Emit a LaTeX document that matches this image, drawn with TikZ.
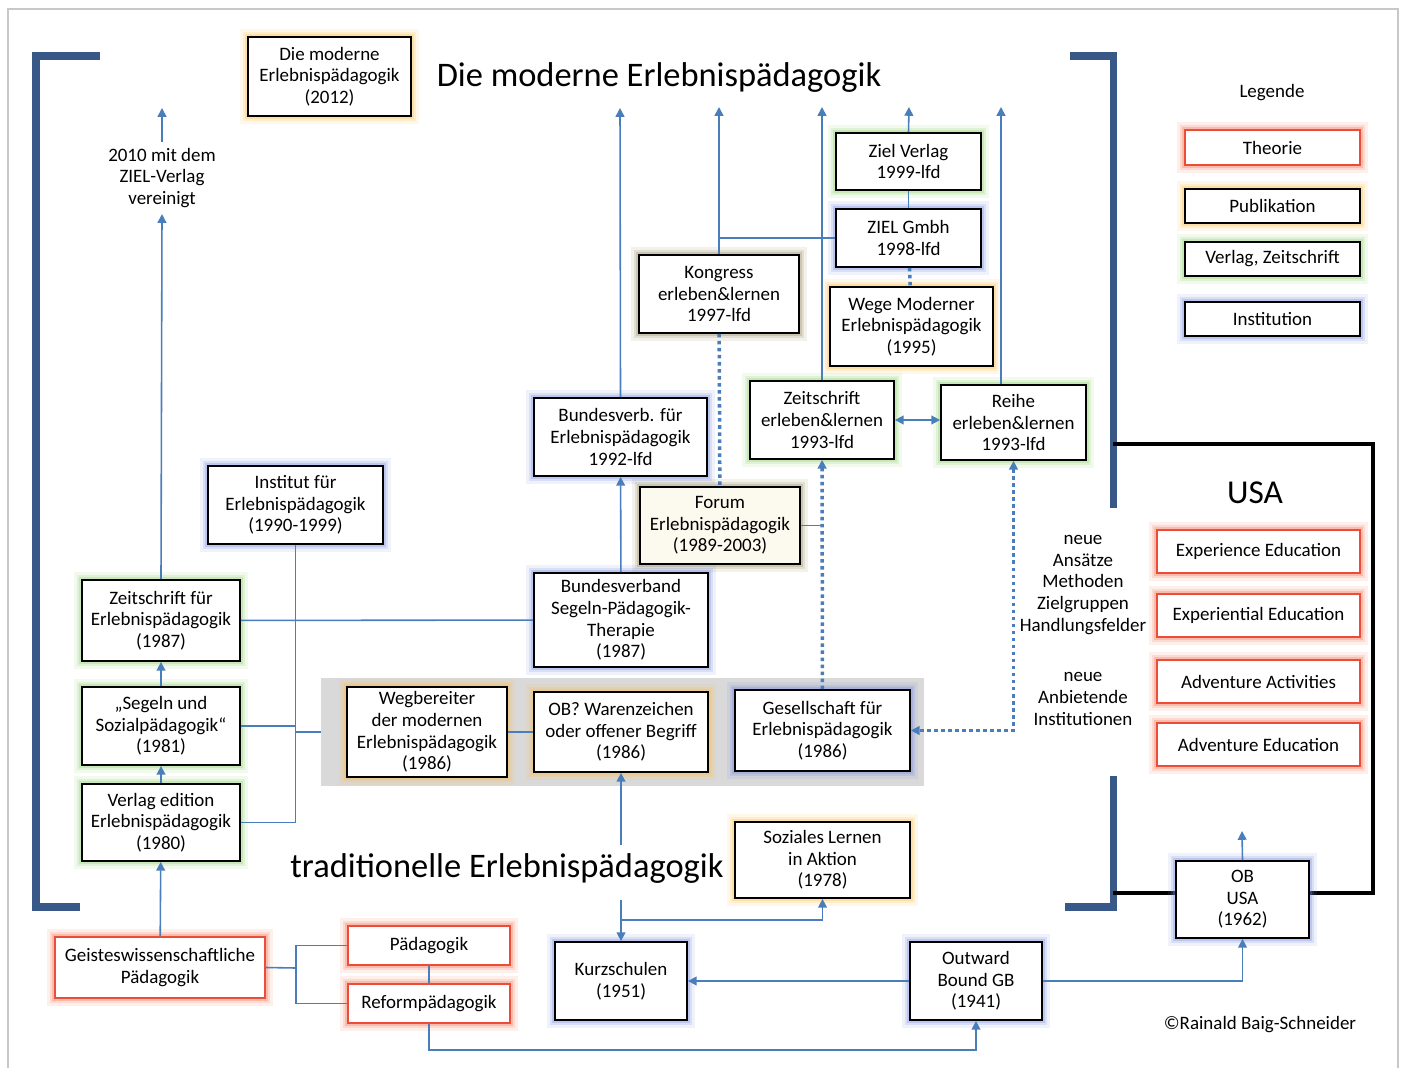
\documentclass[tikz,border=0pt]{standalone}
\usepackage{fontspec}
\setmainfont{Carlito}
\usetikzlibrary{arrows.meta}

\definecolor{linecol}{RGB}{74,126,187}
\definecolor{bracketcol}{RGB}{56,88,135}
\definecolor{bandgray}{RGB}{217,217,217}
\definecolor{framegray}{RGB}{200,200,200}
\definecolor{redcol}{RGB}{237,76,56}
\definecolor{redglow}{RGB}{245,120,90}
\definecolor{yellowglow}{RGB}{250,190,80}
\definecolor{greenglow}{RGB}{140,210,110}
\definecolor{blueglow}{RGB}{120,140,220}
\definecolor{oliveglow}{RGB}{150,140,95}
\definecolor{forumfill}{RGB}{252,250,238}

\begin{document}
\begin{tikzpicture}[x=0.02cm, y=-0.02cm,
  font=\fontsize{10.8}{12.3}\selectfont,
  >={Triangle[length=5pt,width=5pt]},
  box/.style={draw=black, line width=1pt, fill=white, align=center, inner sep=0pt},
  boxsize/.style 2 args={minimum width=#1*0.02cm, minimum height=#2*0.02cm},
  glow/.style={preaction={draw=#1, line width=9pt, opacity=.12},
               preaction={draw=#1, line width=6pt, opacity=.18},
               preaction={draw=#1, line width=3pt, opacity=.3}},
  theorie/.style={box, draw=redcol, glow=redglow},
  publ/.style={box, glow=yellowglow},
  verlag/.style={box, glow=greenglow},
  inst/.style={box, glow=blueglow},
  link/.style={draw=linecol, line width=0.9pt},
  dots/.style={draw=linecol, line width=2pt, dash pattern=on 2pt off 2pt},
  bracket/.style={draw=bracketcol, line width=4pt},
  bigtext/.style={font=\fontsize{19.6}{24}\selectfont}]

\useasboundingbox (0,0) rectangle (1402,1068);

% Frame and brackets
\draw[framegray, line width=0.8pt] (8,1068) -- (8,9) -- (1398,9) -- (1398,1068);
\draw[bracket] (100,56) -- (36,56) -- (36,907) -- (80,907);
\draw[bracket] (1070,56) -- (1113,56) -- (1113,508);
\draw[bracket] (1113,776) -- (1113,907) -- (1065,907);
\draw[black, line width=2.3pt] (1113,444) -- (1373,444) -- (1373,893) -- (1113,893);

% Gray band (1986)
\node[fill=bandgray, inner sep=0pt, boxsize={603}{108}] (band) at (622.5,732) {};

% Titles
\node[bigtext] (titel) at (659,78) {Die moderne Erlebnispädagogik};
\node[bigtext] (tradtitel) at (507,868) {traditionelle Erlebnispädagogik};
\node[font=\fontsize{19}{23}\selectfont] (usa) at (1255,493) {USA};

% Modern part
\node[publ, boxsize={163}{79}] (moderne) at (329.5,76.5) {Die moderne\\Erlebnispädagogik\\(2012)};
\node[align=center] (vereinigt) at (162,178) {2010 mit dem\\ZIEL-Verlag\\vereinigt};
\node[verlag, boxsize={145}{57}] (zielverlag) at (908.5,161.5) {Ziel Verlag\\1999-lfd};
\node[inst, boxsize={145}{58}] (zielgmbh) at (908.5,238) {ZIEL Gmbh\\1998-lfd};
\node[box, glow=oliveglow, boxsize={160}{78}] (kongress) at (719,294) {Kongress\\erleben\&lernen\\1997-lfd};
\node[publ, boxsize={163}{79}] (wege) at (911.5,326.5) {Wege Moderner\\Erlebnispädagogik\\(1995)};
\node[inst, boxsize={173}{78}] (bundesverb) at (620.5,437) {Bundesverb. für\\Erlebnispädagogik\\1992-lfd};
\node[verlag, boxsize={144}{78}] (zeitel) at (822,420) {Zeitschrift\\erleben\&lernen\\1993-lfd};
\node[verlag, boxsize={145}{75}] (reihe) at (1013.5,422.5) {Reihe\\erleben\&lernen\\1993-lfd};
\node[box, fill=forumfill, glow=oliveglow, boxsize={160}{77}] (forum) at (720,525.5) {Forum\\Erlebnispädagogik\\(1989-2003)};
\node[inst, boxsize={175}{78}] (institut) at (295.5,505) {Institut für\\Erlebnispädagogik\\(1990-1999)};
\node[verlag, boxsize={158}{81}] (zeitfuer) at (161,620.5) {Zeitschrift für\\Erlebnispädagogik\\(1987)};
\node[verlag, boxsize={158}{78}] (segeln) at (161,726) {„Segeln und\\Sozialpädagogik“\\(1981)};
\node[verlag, boxsize={158}{77}] (edition) at (161,822.5) {Verlag edition\\Erlebnispädagogik\\(1980)};
\node[inst, boxsize={174}{94}] (bvsegeln) at (621,620) {Bundesverband\\Segeln-Pädagogik-\\Therapie\\(1987)};
\node[publ, boxsize={160}{90}] (wegbereiter) at (427,732) {Wegbereiter\\der modernen\\Erlebnispädagogik\\(1986)};
\node[publ, boxsize={174}{80}] (obwaren) at (621,732) {OB? Warenzeichen\\oder offener Begriff\\(1986)};
\node[inst, boxsize={175}{81}] (gesellschaft) at (822.5,730.5) {Gesellschaft für\\Erlebnispädagogik\\(1986)};

% Traditional part
\node[publ, boxsize={175}{76}] (soziales) at (822.5,860) {Soziales Lernen\\in Aktion\\(1978)};
\node[inst, boxsize={132}{78}] (kurzschulen) at (621,981) {Kurzschulen\\(1951)};
\node[inst, boxsize={132}{78}] (outward) at (976,981) {Outward\\Bound GB\\(1941)};
\node[inst, boxsize={133}{77}] (obusa) at (1242.5,899.5) {OB\\USA\\(1962)};
\node[theorie, boxsize={210}{61}] (geistes) at (160,967.5) {Geisteswissenschaftliche\\Pädagogik};
\node[theorie, boxsize={162}{39}] (paed) at (429,945.5) {Pädagogik};
\node[theorie, boxsize={162}{39}] (reform) at (429,1003.5) {Reformpädagogik};

% Legend
\node (legende) at (1272,93) {Legende};
\node[theorie, boxsize={175}{35}] (legtheorie) at (1272.5,147.5) {Theorie};
\node[publ, boxsize={175}{34}] (legpubl) at (1272.5,206) {Publikation};
\node[verlag, boxsize={175}{34}] (legverlag) at (1272.5,259) {Verlag, Zeitschrift};
\node[inst, boxsize={175}{34}] (leginst) at (1272.5,319) {Institution};

% USA
\node[theorie, boxsize={203}{43}] (expe) at (1258.5,551.5) {Experience Education};
\node[theorie, boxsize={203}{43}] (expl) at (1258.5,615.5) {Experiential Education};
\node[theorie, boxsize={203}{43}] (advact) at (1258.5,681.5) {Adventure Activities};
\node[theorie, boxsize={203}{43}] (advedu) at (1258.5,744.5) {Adventure Education};
\node[align=center] (ansaetze) at (1083,585) {neue\\Ansätze\\Methoden\\Zielgruppen\\Handlungsfelder};
\node[align=center] (anbieter) at (1083,699) {neue\\Anbietende\\Institutionen};
\node (copy) at (1260,1025) {©Rainald Baig-Schneider};

% Free ends
\coordinate (up0) at (162,108);
\coordinate (up1) at (620,108);
\coordinate (up2) at (719,107);
\coordinate (up3) at (822,107);
\coordinate (up4) at (909,107);
\coordinate (up5) at (1001,107);
\coordinate (up6) at (1242,831);
\coordinate (tradtop) at (621,845);
\coordinate (tradbot) at (621,900);
\coordinate (branch) at (621,920);
\coordinate (gsplit) at (296,968);
\coordinate (rbot) at (700,1050);

% Connectors modern part
\draw[link, ->] (vereinigt.north) -- (up0);
\draw[link, ->] (zeitfuer.north) -- (vereinigt.south);
\draw[link, ->] (bundesverb.north) -- (up1);
\draw[link, ->] (kongress.north) -- (up2);
\draw[link, ->] (zeitel.north) -- (up3);
\draw[link, ->] (zielverlag.north) -- (up4);
\draw[link, ->] (reihe.north -| up5) -- (up5);
\draw[link] (zielverlag) -- (zielgmbh);
\draw[link] (zielgmbh.west) -- (zielgmbh.west -| kongress.north);
\draw[dots] (zielgmbh) -- (wege);
\draw[dots] (kongress) -- (forum);
\draw[link, <->] (zeitel.east) -- (zeitel.east -| reihe.west);
\draw[link, ->] (bvsegeln) -- (bundesverb);
\draw[link] (forum.east) -- (forum.east -| zeitel.south);
\draw[dots, ->] (gesellschaft) -- (zeitel);
\draw[dots, <->] (reihe.south) |- (gesellschaft.east);
\draw[link] (institut.south) |- (edition.east);
\draw[link] (segeln.east) -- (segeln.east -| institut.south);
\draw[link] (band.west -| institut.south) -- (band.west);
\draw[link] (zeitfuer) -- (bvsegeln);
\draw[link, ->] (segeln) -- (zeitfuer);
\draw[link, ->] (edition) -- (segeln);
\draw[link] (wegbereiter) -- (obwaren);

% Connectors traditional part
\draw[link, ->] (geistes) -- (edition);
\draw[link] (geistes.east) -- (gsplit);
\draw[link] (paed.west) -| (gsplit);
\draw[link] (reform.west) -| (gsplit);
\draw[link] (paed) -- (reform);
\draw[link, ->] (reform.south) |- (rbot) -| (outward.south);
\draw[link, ->] (tradtop) -- (obwaren);
\draw[link, ->] (tradbot) -- (kurzschulen);
\draw[link, ->] (branch) -| (soziales.south);
\draw[link, ->] (outward) -- (kurzschulen);
\draw[link, ->] (outward) -| (obusa);
\draw[link, ->] (obusa.north) -- (up6);

\end{tikzpicture}
\end{document}
